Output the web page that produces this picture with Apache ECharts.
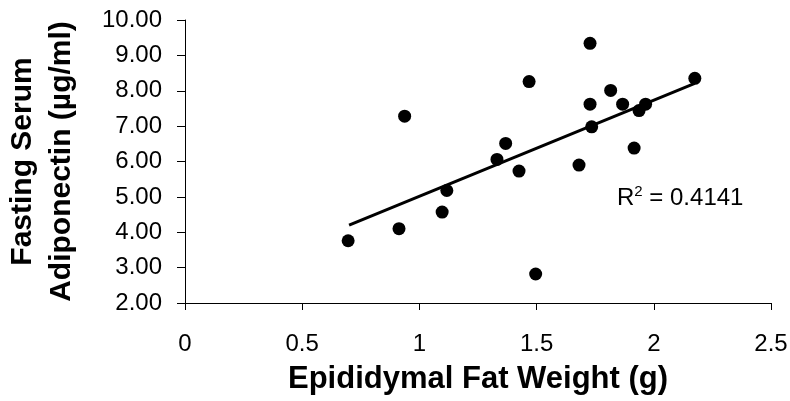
<!DOCTYPE html>
<html>
<head>
<meta charset="utf-8">
<script src="https://cdn.jsdelivr.net/npm/echarts@6/dist/echarts.min.js"></script>
<style>html,body{margin:0;padding:0;background:#fff;}#c{width:790px;height:401px;}</style>
</head>
<body>
<div id="c"></div>
<script>
var fatWeight = [0.696, 0.913, 0.937, 1.097, 1.117, 1.331, 1.368, 1.425, 1.468, 1.496, 1.681, 1.728, 1.728, 1.735, 1.816, 1.867, 1.916, 1.937, 1.965, 2.175];
var adiponectin = [3.76, 4.10, 7.28, 4.57, 5.18, 6.06, 6.51, 5.73, 8.26, 2.82, 5.90, 9.34, 7.62, 6.98, 8.01, 7.62, 6.38, 7.44, 7.62, 8.35];
var trendX = [0.70, 2.175];
var trendY = [4.20, 8.21];
var xTicks = [0, 0.5, 1, 1.5, 2, 2.5];
var yTicks = [2, 3, 4, 5, 6, 7, 8, 9, 10];
var rSquared = '0.4141';

var points = fatWeight.map(function (x, i) { return [x, adiponectin[i]]; });
var trend = trendX.map(function (x, i) { return [x, trendY[i]]; });
var font = '"Liberation Sans", Arial, sans-serif';

var chart = echarts.init(document.getElementById('c'));
chart.setOption({
  animation: false,
  backgroundColor: '#fff',
  grid: { left: 185, right: 19, top: 20, bottom: 98, containLabel: false, outerBoundsMode: 'none' },
  xAxis: {
    type: 'value', min: xTicks[0], max: xTicks[xTicks.length - 1], interval: 0.5,
    axisLine: { show: true, onZero: false, lineStyle: { color: '#000', width: 1 } },
    axisTick: { show: true, length: 7, lineStyle: { color: '#000' } },
    splitLine: { show: false },
    axisLabel: { color: '#000', fontFamily: font, fontSize: 24, margin: 29, formatter: function (v) { return String(v); } },
    name: 'Epididymal Fat Weight (g)', nameLocation: 'middle', nameGap: 61,
    nameTextStyle: { color: '#000', fontFamily: font, fontSize: 31, fontWeight: 'bold' }
  },
  yAxis: {
    type: 'value', min: yTicks[0], max: yTicks[yTicks.length - 1], interval: 1,
    axisLine: { show: true, onZero: false, lineStyle: { color: '#000', width: 1 } },
    axisTick: { show: true, length: 8, lineStyle: { color: '#000' } },
    splitLine: { show: false },
    axisLabel: { color: '#000', fontFamily: font, fontSize: 24, margin: 23, formatter: function (v) { return v.toFixed(2); } },
    name: 'Fasting Serum\nAdiponectin (µg/ml)', nameLocation: 'middle', nameRotate: 90, nameGap: 104,
    nameTextStyle: { color: '#000', fontFamily: font, fontSize: 30, fontWeight: 'bold', lineHeight: 39 }
  },
  series: [
    {
      type: 'scatter', data: points, symbol: 'circle', symbolSize: 13,
      itemStyle: { color: '#000', opacity: 1 }, z: 3
    },
    {
      type: 'line', data: trend, symbol: 'none', showSymbol: false,
      lineStyle: { color: '#000', width: 3 }, z: 2
    }
  ],
  graphic: [{
    type: 'text', left: 617, top: 184,
    style: {
      text: '{a|R}{s|2}{a| = ' + rSquared + '}',
      rich: {
        a: { fontFamily: font, fontSize: 24, fill: '#000', verticalAlign: 'bottom', lineHeight: 26 },
        s: { fontFamily: font, fontSize: 15, fill: '#000', verticalAlign: 'top', lineHeight: 26, padding: [0, 0, 10, 0] }
      }
    }
  }]
});
</script>
</body>
</html>
